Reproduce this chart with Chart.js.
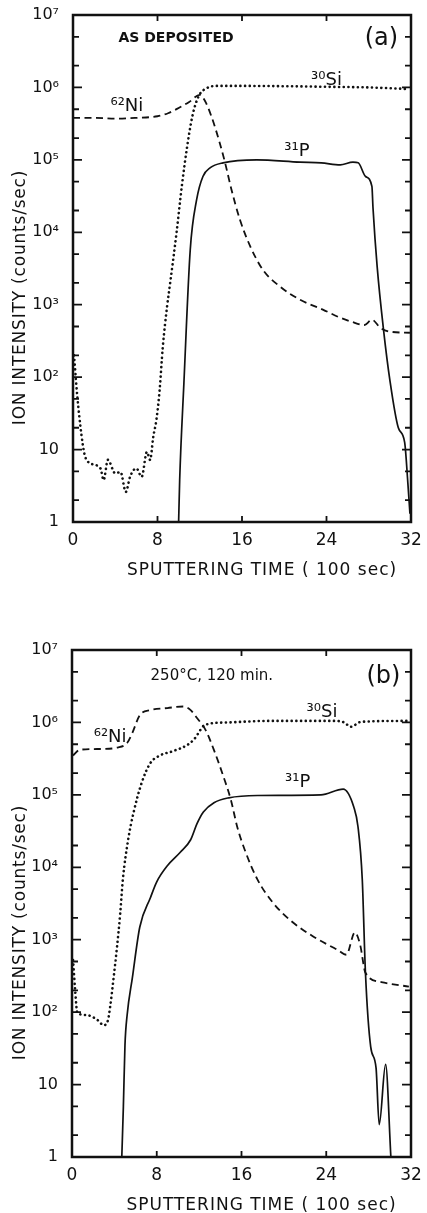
<!DOCTYPE html>
<html>
<head>
<meta charset="utf-8">
<script src="https://cdn.jsdelivr.net/npm/chart.js@4/dist/chart.umd.min.js"></script>
<style>
  body { margin: 0; background: #fff; width: 427px; height: 1213px; overflow: hidden; }
  .panel { position: absolute; left: 0; width: 427px; }
</style>
</head>
<body>
<div class="panel" style="top:0;height:606px"><canvas id="chartA"></canvas></div>
<div class="panel" style="top:606px;height:607px"><canvas id="chartB"></canvas></div>
<script>
// axis ticks
var xTickValues = [0, 8, 16, 24, 32];
var yTickValues = [1, 10, 100, 1e3, 1e4, 1e5, 1e6, 1e7];
var yTickLabels = ['1', '10', '10²', '10³', '10⁴', '10⁵', '10⁶', '10⁷'];

// (a) as deposited  -- time in units of 100 sec, intensity in counts/sec
var niA_t = [0, 2, 4, 6, 8, 9, 10, 11, 12.0, 12.5, 13.1, 13.9, 14.4, 15.0, 15.8, 16.8, 18.0, 19.6, 21.5, 23.7, 25.1, 26.4, 27.6, 28.3, 29.1, 30, 31.9];
var niA_c = [3.8e5, 3.8e5, 3.7e5, 3.8e5, 4.0e5, 4.4e5, 5.2e5, 6.3e5, 7.9e5, 6.5e5, 4.0e5, 1.7e5, 9.1e4, 3.9e4, 1.5e4, 6300, 3000, 1780, 1170, 850, 680, 580, 525, 620, 480, 425, 410];

var siA_t = [0.1, 0.4, 0.8, 1.1, 1.6, 2.6, 2.9, 3.3, 4.0, 4.5, 5.0, 5.4, 6.0, 6.5, 7.0, 7.3, 7.6, 7.9, 8.2, 8.5, 8.9, 9.2, 9.8, 10.3, 10.8, 11.3, 11.9, 12.7, 13.6, 16, 20, 24, 28, 31.8];
var siA_c = [200, 56, 16, 8.5, 6.5, 5.5, 3.8, 7.2, 4.7, 4.9, 2.6, 4.2, 5.5, 4.2, 9.3, 7.2, 15, 26, 66, 260, 930, 2000, 9800, 4.3e4, 1.5e5, 4.0e5, 7.6e5, 9.8e5, 1.05e6, 1.05e6, 1.04e6, 1.02e6, 1.0e6, 9.5e5];

var pA_t = [10.0, 10.1, 10.5, 11.1, 11.7, 12.3, 13.0, 14.2, 17.4, 21.5, 23.5, 25.3, 26.5, 27.0, 27.7, 28.3, 28.4, 28.8, 29.4, 30.0, 30.8, 31.4, 31.7, 31.9];
var pA_c = [1, 3.8, 83, 5750, 2.8e4, 5.9e4, 7.8e4, 9.1e4, 1.0e5, 9.3e4, 9.1e4, 8.5e4, 9.3e4, 9.1e4, 5.9e4, 4.3e4, 2.2e4, 3300, 450, 91, 20, 12.6, 3.5, 1.3];

// (b) 250 C, 120 min
var niB_t = [0.1, 0.75, 2.7, 4.3, 5.2, 5.7, 6.4, 7.4, 9.0, 10.5, 11.2, 11.8, 12.6, 13.5, 14.3, 15.0, 15.6, 16.4, 17.5, 19.0, 20.6, 22.8, 25.1, 25.9, 26.7, 27.2, 27.7, 29.2, 31.8];
var niB_c = [3.5e5, 4.2e5, 4.3e5, 4.5e5, 5.2e5, 7.2e5, 1.26e6, 1.48e6, 1.58e6, 1.66e6, 1.48e6, 1.15e6, 7.9e5, 3.8e5, 1.78e5, 8.5e4, 3.6e4, 1.6e4, 6800, 3200, 1860, 1100, 720, 620, 1260, 850, 350, 260, 225];

var siB_t = [0.1, 0.3, 0.5, 1.4, 2.4, 3.0, 3.4, 3.6, 3.9, 4.25, 4.55, 4.8, 5.3, 5.8, 6.6, 7.4, 8.3, 9.5, 10.9, 11.5, 12.6, 14.7, 18.5, 24.7, 25.7, 26.3, 27.3, 31.8];
var siB_c = [525, 200, 98, 91, 78, 66, 78, 118, 275, 800, 2300, 6800, 2.4e4, 5.6e4, 1.5e5, 2.75e5, 3.5e5, 4.0e5, 4.9e5, 5.8e5, 9.3e5, 1.0e6, 1.05e6, 1.05e6, 1.0e6, 8.7e5, 1.02e6, 1.05e6];

var pB_t = [4.7, 4.85, 5.0, 5.2, 5.7, 6.4, 7.4, 8.0, 9.0, 10.2, 11.2, 11.8, 12.4, 13.4, 14.8, 17.5, 23.5, 25.6, 26.6, 27.0, 27.4, 27.7, 28.2, 28.7, 29.0, 29.6, 30.1];
var pB_c = [1, 5, 35, 90, 300, 1500, 3800, 6300, 1.05e4, 1.6e4, 2.4e4, 4.0e4, 5.8e4, 7.8e4, 9.1e4, 9.8e4, 1.0e5, 1.2e5, 6.8e4, 3.6e4, 6800, 350, 33, 17, 2.8, 19, 1];

function pts(xs, ys) {
    return xs.map(function (x, i) { return { x: x, y: ys[i] }; });
}

var ink = '#111';
var font = '"DejaVu Sans", sans-serif';

// frame, inward ticks, curve labels and axis titles
var framePlugin = {
    id: 'frame',
    afterDatasetsDraw: function (chart, args, opts) {
        var ctx = chart.ctx, a = chart.chartArea;
        var xs = chart.scales.x, ys = chart.scales.y;
        ctx.save();
        ctx.strokeStyle = ink;
        ctx.lineWidth = 2.5;
        ctx.strokeRect(a.left, a.top, a.right - a.left, a.bottom - a.top);

        ctx.lineWidth = 1.8;
        ctx.beginPath();
        for (var d = 0; d < 7; d++) {
            [1, 2, 5].forEach(function (m) {
                if (d == 0 && m == 1) return;
                var py = ys.getPixelForValue(m * Math.pow(10, d));
                var len = m == 1 ? 9 : 6;
                ctx.moveTo(a.left, py); ctx.lineTo(a.left + len, py);
                ctx.moveTo(a.right, py); ctx.lineTo(a.right - len, py);
            });
        }
        xTickValues.slice(1, -1).forEach(function (v) {
            var px = xs.getPixelForValue(v);
            ctx.moveTo(px, a.bottom); ctx.lineTo(px, a.bottom - 6);
            ctx.moveTo(px, a.top); ctx.lineTo(px, a.top + 6);
        });
        ctx.stroke();

        ctx.fillStyle = ink;
        ctx.textAlign = 'center';
        ctx.textBaseline = 'middle';
        opts.notes.forEach(function (n) {
            ctx.font = n.font;
            ctx.fillText(n.text, xs.getPixelForValue(n.x), ys.getPixelForValue(n.y));
        });

        ctx.font = '17px ' + font;
        ctx.letterSpacing = '1px';
        ctx.fillText('SPUTTERING TIME ( 100 sec)', (a.left + a.right) / 2 + 20, a.bottom + 49);
        ctx.letterSpacing = '0.8px';
        ctx.translate(21, (a.top + a.bottom) / 2 + 29);
        ctx.rotate(-Math.PI / 2);
        ctx.fillText('ION INTENSITY (counts/sec)', 0, 0);
        ctx.restore();
    }
};

function renderChart(id, ni, si, p, notes, box) {
    var ctx = document.getElementById(id).getContext('2d');
    return new Chart(ctx, {
        type: 'line',
        data: {
            datasets: [{
                label: '62Ni',
                data: ni,
                borderColor: ink,
                borderWidth: 1.8,
                borderDash: [7, 4.5]
            }, {
                label: '30Si',
                data: si,
                borderColor: ink,
                borderWidth: 2.6,
                borderCapStyle: 'round',
                borderDash: [0.1, 4.6]
            }, {
                label: '31P',
                data: p,
                borderColor: ink,
                borderWidth: 1.7
            }]
        },
        options: {
            responsive: true,
            maintainAspectRatio: false,
            animation: { duration: 0 },
            layout: { padding: { top: box.top, right: box.right, left: 0, bottom: 0 } },
            elements: {
                point: { radius: 0 },
                line: { cubicInterpolationMode: 'monotone', fill: false }
            },
            plugins: {
                legend: { display: false },
                tooltip: { enabled: false },
                frame: { notes: notes }
            },
            scales: {
                x: {
                    type: 'linear',
                    min: 0,
                    max: 32,
                    grid: { display: false },
                    border: { display: false },
                    afterBuildTicks: function (scale) {
                        scale.ticks = xTickValues.map(function (v) { return { value: v }; });
                    },
                    afterFit: function (scale) {
                        scale.height = box.xh;
                        scale.paddingLeft = 0;
                        scale.paddingRight = 0;
                    },
                    ticks: {
                        color: ink,
                        padding: 0,
                        maxRotation: 0,
                        font: { family: font, size: 17 }
                    }
                },
                y: {
                    type: 'logarithmic',
                    min: 1,
                    max: 1e7,
                    grid: { display: false },
                    border: { display: false },
                    afterBuildTicks: function (scale) {
                        scale.ticks = yTickValues.map(function (v) { return { value: v }; });
                    },
                    afterFit: function (scale) {
                        scale.width = box.left;
                        scale.paddingTop = 0;
                        scale.paddingBottom = 0;
                    },
                    ticks: {
                        color: ink,
                        padding: 6,
                        font: { family: font, size: 16 },
                        callback: function (v) {
                            var i = yTickValues.indexOf(v);
                            return i < 0 ? '' : yTickLabels[i];
                        }
                    }
                }
            }
        },
        plugins: [framePlugin]
    });
}

renderChart('chartA', pts(niA_t, niA_c), pts(siA_t, siA_c), pts(pA_t, pA_c), [
    { text: 'AS DEPOSITED', x: 9.75, y: 4.7e6, font: 'bold 14px ' + font },
    { text: '(a)', x: 29.2, y: 4.7e6, font: '24px ' + font },
    { text: '⁶²Ni', x: 5.1, y: 5.4e5, font: '18px ' + font },
    { text: '³⁰Si', x: 24.0, y: 1.26e6, font: '18px ' + font },
    { text: '³¹P', x: 21.2, y: 1.3e5, font: '18px ' + font }
], { top: 15, right: 16, left: 73, xh: 84 });

renderChart('chartB', pts(niB_t, niB_c), pts(siB_t, siB_c), pts(pB_t, pB_c), [
    { text: '250°C, 120 min.', x: 13.2, y: 4.3e6, font: '15px ' + font },
    { text: '(b)', x: 29.4, y: 4.3e6, font: '24px ' + font },
    { text: '⁶²Ni', x: 3.6, y: 6.3e5, font: '18px ' + font },
    { text: '³⁰Si', x: 23.6, y: 1.4e6, font: '18px ' + font },
    { text: '³¹P', x: 21.3, y: 1.5e5, font: '18px ' + font }
], { top: 44, right: 16, left: 72, xh: 56 });
</script>
</body>
</html>
